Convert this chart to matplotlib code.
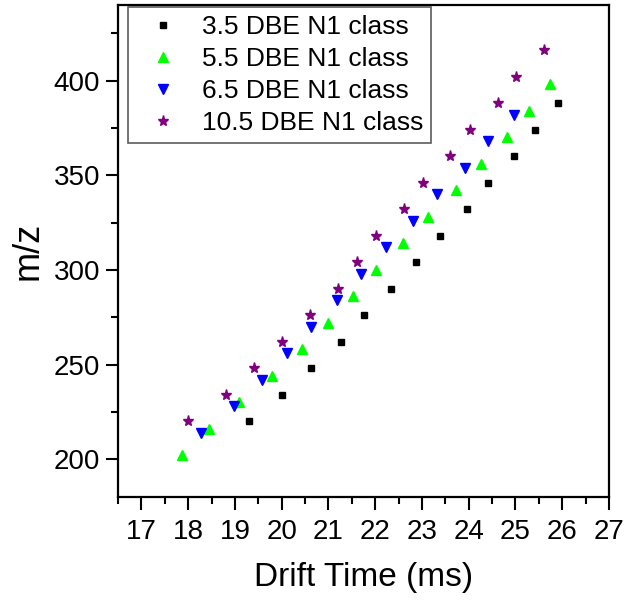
import numpy as np
import matplotlib
matplotlib.use("Agg")
import matplotlib.pyplot as plt

plt.rcParams['font.family'] = ['Liberation Sans', 'DejaVu Sans']

# drift time (ms) and m/z for each DBE class
t_35 = [19.30, 20.00, 20.63, 21.27, 21.76, 22.33, 22.88, 23.39, 23.97, 24.42, 24.96, 25.42, 25.92]
mz_35 = [220, 234, 248, 262, 276, 290, 304, 318, 332, 346, 360, 374, 388]

t_55 = [17.86, 18.45, 19.09, 19.79, 20.43, 21.00, 21.52, 22.02, 22.60, 23.14, 23.73, 24.26, 24.82, 25.29, 25.74]
mz_55 = [202, 216, 230, 244, 258, 272, 286, 300, 314, 328, 342, 356, 370, 384, 398]

t_65 = [18.27, 18.98, 19.57, 20.11, 20.63, 21.18, 21.70, 22.23, 22.80, 23.32, 23.91, 24.41, 24.96]
mz_65 = [214, 228, 242, 256, 270, 284, 298, 312, 326, 340, 354, 368, 382]

t_105 = [18.00, 18.80, 19.40, 20.00, 20.60, 21.21, 21.61, 22.01, 22.61, 23.02, 23.61, 24.02, 24.62, 25.02, 25.62]
mz_105 = [220, 234, 248, 262, 276, 290, 304, 318, 332, 346, 360, 374, 388, 402, 416]

labels = ["3.5 DBE N1 class", "5.5 DBE N1 class", "6.5 DBE N1 class", "10.5 DBE N1 class"]

fig = plt.figure(figsize=(6.3, 6.05), dpi=100)
ax = fig.add_axes([118/630, 1-497/605, (609-118)/630, (497-5)/605])

ax.plot(t_35, mz_35, ls='none', marker='s', ms=5, color='black', label=labels[0])
ax.plot(t_55, mz_55, ls='none', marker='^', ms=7.5, color='#00ff00', label=labels[1])
ax.plot(t_65, mz_65, ls='none', marker='v', ms=7.5, color='#0000ff', label=labels[2])
ax.plot(t_105, mz_105, ls='none', marker='*', ms=8, color='#800080', label=labels[3])

ax.set_xlim(16.5, 27)
ax.set_ylim(180, 440)
ax.set_xticks(np.arange(17, 28, 1))
ax.set_xticks(np.arange(16.5, 27.01, 0.5), minor=True)
ax.set_yticks([200, 250, 300, 350, 400])
ax.set_yticks(np.arange(200, 440, 25), minor=True)

ax.tick_params(which='both', direction='out', top=False, right=False, width=1.5, labelsize=20)
ax.tick_params(which='major', length=9)
ax.tick_params(which='minor', length=5)
ax.tick_params(axis='x', pad=7)
ax.tick_params(axis='y', pad=4)
for sp in ax.spines.values():
    sp.set_linewidth(1.6)

ax.set_xlabel("Drift Time (ms)", fontsize=24, labelpad=12)
ax.set_ylabel("m/z", fontsize=26, labelpad=6)

leg = ax.legend(loc='upper left', bbox_to_anchor=(0.02, 0.995), fontsize=19,
                numpoints=1, frameon=True, fancybox=False, borderaxespad=0,
                handlelength=2.1, handletextpad=0.4, labelspacing=0.3,
                borderpad=0.3)
leg.get_frame().set_edgecolor('#333333')
leg.get_frame().set_linewidth(1.2)

fig.savefig("out.png", dpi=100)
